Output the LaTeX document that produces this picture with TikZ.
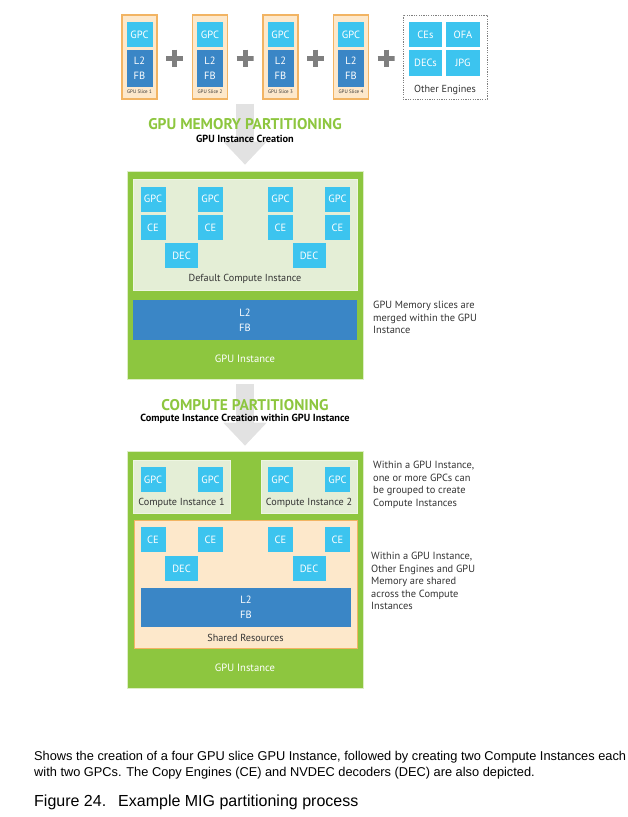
\documentclass[tikz,border=0pt]{standalone}
\usepackage{fontspec}
\setmainfont{Liberation Sans}
\newfontfamily\dinfont{PT Sans}
\usetikzlibrary{arrows.meta}
\definecolor{gigreen}{HTML}{8DC63F}
\definecolor{cipanel}{HTML}{E4EED6}
\definecolor{gpccyan}{HTML}{3CC4EF}
\definecolor{memblue}{HTML}{3A86C6}
\definecolor{slicefill}{HTML}{FDE8CB}
\definecolor{sliceline}{HTML}{F2B463}
\definecolor{plusgray}{HTML}{7F7F7F}
\definecolor{arrowgray}{HTML}{E2E2E2}
\definecolor{notegray}{HTML}{333333}
\tikzset{unit/.style={fill=gpccyan,text=white,inner sep=0,minimum width=25pt,minimum height=25pt,font=\dinfont\fontsize{10.5}{12}\selectfont},
mem/.style={fill=memblue,text=white,inner sep=0,align=center,font=\dinfont\fontsize{10.5}{15}\selectfont},
slice/.style={draw=sliceline,fill=slicefill,line width=1.2pt,minimum width=35pt,minimum height=84pt,inner sep=0},
panel/.style={fill=cipanel,draw=white!85!gigreen,line width=.6pt,inner sep=0},
gibox/.style={fill=gigreen,draw=white!70!gigreen,line width=.6pt,inner sep=0,minimum width=236pt},
lbl/.style={text=notegray,inner sep=0,font=\dinfont\fontsize{10.2}{11}\selectfont},
whitelbl/.style={text=white,inner sep=0,font=\dinfont\fontsize{10.6}{11}\selectfont},
note/.style={text=notegray,inner sep=0,align=left,anchor=north west,font=\dinfont\fontsize{10.4}{12.5}\selectfont},
heading/.style={text=gigreen,inner sep=0,font=\dinfont\bfseries\fontsize{15.5}{16}\selectfont},
subheading/.style={text=black,inner sep=0,font=\dinfont\bfseries\fontsize{10.3}{11}\selectfont},
plus/.style={minimum size=17pt,inner sep=0,path picture={\draw[plusgray,line width=5pt](path picture bounding box.north)--(path picture bounding box.south)(path picture bounding box.west)--(path picture bounding box.east);}},
bigarrow/.style={arrowgray,line width=18pt,-{Triangle[width=42pt,length=23pt]}}}
\begin{document}
\begin{tikzpicture}[x=1pt,y=-1pt]
\useasboundingbox(0,0)rectangle(627,817);
% GPU slices and other engines
\node[slice](slice1)at(139.5,57){};\node[slice](slice2)at(210,57){};
\node[slice](slice3)at(280.5,57){};\node[slice](slice4)at(351,57){};
\node[unit,minimum width=26pt](sgpc1)at(139.5,34.5){GPC};\node[unit,minimum width=26pt](sgpc2)at(210,34.5){GPC};
\node[unit,minimum width=26pt](sgpc3)at(280.5,34.5){GPC};\node[unit,minimum width=26pt](sgpc4)at(351,34.5){GPC};
\node[mem,minimum width=26pt,minimum height=37pt](smem1)at(139.5,68.5){L2\\FB};\node[mem,minimum width=26pt,minimum height=37pt](smem2)at(210,68.5){L2\\FB};
\node[mem,minimum width=26pt,minimum height=37pt](smem3)at(280.5,68.5){L2\\FB};\node[mem,minimum width=26pt,minimum height=37pt](smem4)at(351,68.5){L2\\FB};
\node[lbl,font=\dinfont\fontsize{5}{5}\selectfont](slab1)at(139.5,92){GPU Slice 1};\node[lbl,font=\dinfont\fontsize{5}{5}\selectfont](slab2)at(210,92){GPU Slice 2};
\node[lbl,font=\dinfont\fontsize{5}{5}\selectfont](slab3)at(280.5,92){GPU Slice 3};\node[lbl,font=\dinfont\fontsize{5}{5}\selectfont](slab4)at(351,92){GPU Slice 4};
\node[plus](plus1)at(174.5,58){};\node[plus](plus2)at(245,58){};\node[plus](plus3)at(315.5,58){};\node[plus](plus4)at(386,58){};
\node[draw=plusgray,dash pattern=on 1.2pt off 1.2pt,line width=.8pt,minimum width=84pt,minimum height=84pt,inner sep=0](engines)at(445,57){};
\node[unit,minimum width=33pt](ces)at(425.5,34.5){CEs};\node[unit,minimum width=34pt](ofa)at(463,34.5){OFA};
\node[unit,minimum width=33pt,minimum height=26pt](decs)at(425.5,63){DECs};\node[unit,minimum width=34pt,minimum height=26pt](jpg)at(463,63){JPG};
\node[lbl](englab)at(445,90){Other Engines};
% GPU memory partitioning
\node[gibox,minimum height=208pt](gi1)at(245,275){};
\draw[bigarrow,shorten <=4pt,shorten >=6pt](plus2|-slice1.south)--(plus2|-gi1.north);
\node[heading](memhead)at(245,124){GPU MEMORY PARTITIONING};
\node[subheading](memsub)at(245,139){GPU Instance Creation};
\node[panel,minimum width=224pt,minimum height=111pt](dci)at(245,234.5){};
\node[unit](gpc1)at(153,199){GPC};\node[unit](gpc2)at(210.5,199){GPC};\node[unit](gpc3)at(280.5,199){GPC};\node[unit](gpc4)at(337.5,199){GPC};
\node[unit](ce1)at(153,227.5){CE};\node[unit](ce2)at(210.5,227.5){CE};\node[unit](ce3)at(280.5,227.5){CE};\node[unit](ce4)at(337.5,227.5){CE};
\node[unit,minimum width=33pt](dec1)at(181.5,255.5){DEC};\node[unit,minimum width=33pt](dec2)at(309,255.5){DEC};
\node[lbl](dcilab)at(245,279){Default Compute Instance};
\node[mem,minimum width=224pt,minimum height=40pt](mem1)at(245,320){L2\\FB};
\node[whitelbl](gilab1)at(245,359){GPU Instance};
\node[note](note1)at(373,301){GPU Memory slices are\\merged within the GPU\\Instance};
% compute partitioning
\node[gibox,minimum height=237pt](gi2)at(245,569.5){};
\draw[bigarrow,shorten <=5pt,shorten >=5pt](plus2|-gi1.south)--(plus2|-gi2.north);
\node[heading](cihead)at(245,405){COMPUTE PARTITIONING};
\node[subheading](cisub)at(245,419){Compute Instance Creation within GPU Instance};
\node[panel,minimum width=97pt,minimum height=53pt](ci1)at(181.5,486.5){};
\node[panel,minimum width=96pt,minimum height=53pt](ci2)at(309,486.5){};
\node[unit](cgpc1)at(153,479.5){GPC};\node[unit](cgpc2)at(210.5,479.5){GPC};\node[unit](cgpc3)at(280.5,479.5){GPC};\node[unit](cgpc4)at(337.5,479.5){GPC};
\node[lbl](ci1lab)at(181.5,503){Compute Instance 1};\node[lbl](ci2lab)at(309,503){Compute Instance 2};
\node[fill=slicefill,draw=sliceline,line width=.8pt,minimum width=223pt,minimum height=128pt,inner sep=0](shared)at(245.5,584){};
\node[unit](sce1)at(153,539.5){CE};\node[unit](sce2)at(210.5,539.5){CE};\node[unit](sce3)at(280.5,539.5){CE};\node[unit](sce4)at(337.5,539.5){CE};
\node[unit,minimum width=33pt](sdec1)at(181.5,568.5){DEC};\node[unit,minimum width=33pt](sdec2)at(309,568.5){DEC};
\node[mem,minimum width=210pt,minimum height=39pt](mem2)at(246,607.5){L2\\FB};
\node[lbl](sharedlab)at(245.5,638){Shared Resources};
\node[whitelbl](gilab2)at(245,668){GPU Instance};
\node[note](note2)at(373,461){Within a GPU Instance,\\one or more GPCs can\\be grouped to create\\Compute Instances};
\node[note](note3)at(371,552){Within a GPU Instance,\\Other Engines and GPU\\Memory are shared\\across the Compute\\Instances};
% caption
\node[inner sep=0,anchor=west,align=left,font=\fontsize{12.8}{16}\selectfont](desc)at(34,765){Shows the creation of a four GPU slice GPU Instance, followed by creating two Compute Instances each\\with two GPCs. The Copy Engines (CE) and NVDEC decoders (DEC) are also depicted.};
\node[inner sep=0,anchor=west,font=\fontsize{16}{17}\selectfont](fig)at(34,802){Figure 24.\hspace{12pt}Example MIG partitioning process};
\end{tikzpicture}
\end{document}
